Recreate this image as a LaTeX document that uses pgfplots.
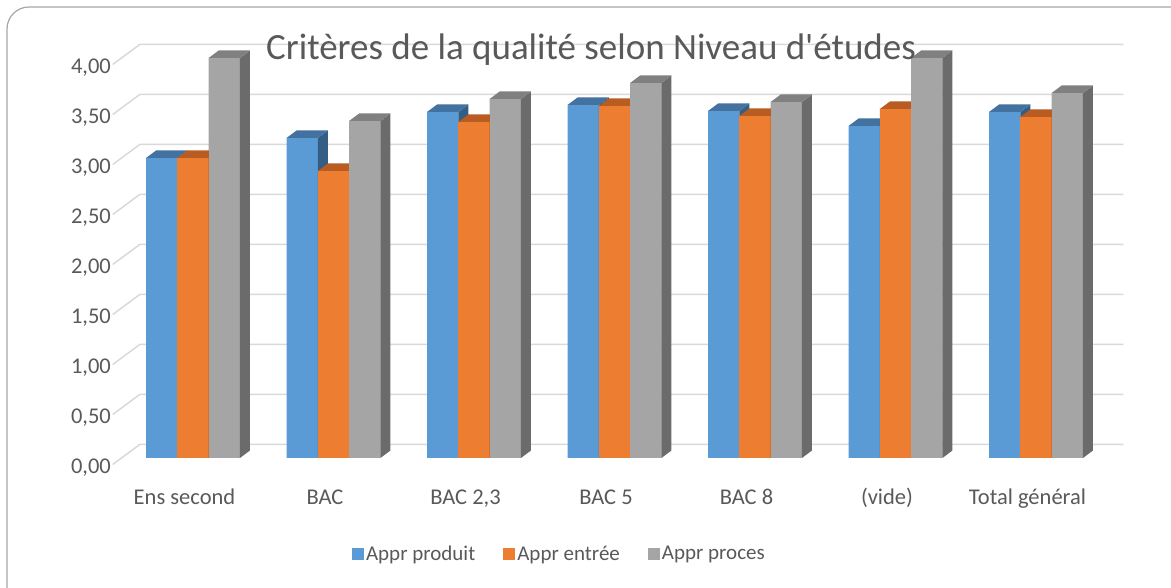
\documentclass[border=0pt]{standalone}
\usepackage{fontspec}
\setmainfont{Carlito}
\usepackage{pgfplots}
\usepackage{pgfplotstable}
\pgfplotsset{compat=1.18}
\definecolor{cblue}{HTML}{5B9BD5}
\definecolor{cbluetop}{HTML}{4472A0}
\definecolor{cblueside}{HTML}{335E86}
\definecolor{corange}{HTML}{ED7D31}
\definecolor{corangetop}{HTML}{B85C22}
\definecolor{corangeside}{HTML}{A8561F}
\definecolor{cgray}{HTML}{A5A5A5}
\definecolor{cgraytop}{HTML}{808080}
\definecolor{cgrayside}{HTML}{6B6B6B}
\definecolor{gridc}{HTML}{D9D9D9}
\definecolor{txt}{HTML}{595959}
\definecolor{framec}{HTML}{A6A6A6}
% 3D bar: #1 name, #2 right edge offset (pt), #3 top colour, #4 side colour, #5 front colour
\newcommand\defthreed[5]{%
 \pgfdeclareplotmark{#1}{%
  \pgfsetfillcolor{#5}%
  \pgfpathrectanglecorners{\pgfpoint{#2pt-31.3pt}{0pt}}{\pgfpoint{#2pt}{-\yv*100pt}}%
  \pgfusepathqfill
  \pgfsetfillcolor{#4}%
  \pgfpathmoveto{\pgfpoint{#2pt}{0pt}}%
  \pgfpathlineto{\pgfpoint{#2pt+10pt}{7.5pt}}%
  \pgfpathlineto{\pgfpoint{#2pt+10pt}{7.5pt-\yv*100pt}}%
  \pgfpathlineto{\pgfpoint{#2pt}{-\yv*100pt}}%
  \pgfpathclose\pgfusepathqfill
  \pgfsetfillcolor{#3}%
  \pgfpathmoveto{\pgfpoint{#2pt-31.3pt}{0pt}}%
  \pgfpathlineto{\pgfpoint{#2pt}{0pt}}%
  \pgfpathlineto{\pgfpoint{#2pt+10pt}{7.5pt}}%
  \pgfpathlineto{\pgfpoint{#2pt-21.3pt}{7.5pt}}%
  \pgfpathclose\pgfusepathqfill}}
\defthreed{blue3d}{-15.65}{cbluetop}{cblueside}{cblue}
\defthreed{orange3d}{15.65}{corangetop}{corangeside}{corange}
\defthreed{gray3d}{46.95}{cgraytop}{cgrayside}{cgray}
\pgfplotsset{sqlegend/.style={legend image code/.code={\fill[##1] (0pt,-6pt) rectangle (12pt,6pt);}}}
\pgfplotstableread{
x a b c
0 3.00 3.00 4.00
1 3.20 2.87 3.37
2 3.46 3.36 3.59
3 3.53 3.52 3.75
4 3.47 3.42 3.56
5 3.32 3.49 4.00
6 3.46 3.41 3.65
}\data
\begin{document}
\begin{tikzpicture}
\useasboundingbox (0pt,0pt) rectangle (1171pt,588pt);
\draw[framec, line width=1.2pt, rounded corners=22pt] (7pt,-30pt) -- (7pt,581pt) -- (1200pt,581pt);
\begin{axis}[
  scale only axis, width=983.5pt, height=400pt,
  at={(122.75pt,130pt)}, anchor=south west,
  xmin=-0.5, xmax=6.5, ymin=0, ymax=4,
  clip=false,
  axis line style={draw=none},
  major tick length=0pt,
  xtick={0,...,6},
  xticklabels={Ens second, BAC, {BAC 2,3}, BAC 5, BAC 8, (vide), Total général},
  xticklabel style={anchor=base, inner sep=0pt, yshift=-46.5pt, xshift=-8.5pt, font=\fontsize{22.5}{27}\selectfont, text=txt},
  ytick={0,0.5,...,4},
  yticklabel shift=11.7pt,
  yticklabel style={anchor=base east, inner sep=0pt, yshift=-16pt, font=\fontsize{22.5}{27}\selectfont, text=txt,
    /pgf/number format/.cd, fixed, fixed zerofill, precision=2, use comma, assume math mode=true},
  legend style={at={(0.444,-0.24)}, anchor=center, draw=none, fill=none, legend columns=3,
    font=\fontsize{21}{25}\selectfont, text=txt,
    /tikz/every even column/.append style={column sep=26pt}},
  legend cell align=left,
]
\pgfplotsinvokeforeach{0,0.5,...,4}{
  \draw[gridc, line width=1.5pt] ([xshift=-10pt,yshift=-6.5pt]axis cs:-0.5,#1) -- ([xshift=17pt,yshift=13.5pt]axis cs:-0.5,#1) -- ([xshift=17pt,yshift=13.5pt]axis cs:6.5,#1);
}
\addplot[ybar, bar width=31.3pt, bar shift=-31.3pt, fill=cblue, draw=none, sqlegend] table[x=x,y=a]{\data};
\addlegendentry{Appr produit}
\addplot[ybar, bar width=31.3pt, bar shift=0pt, fill=corange, draw=none, sqlegend] table[x=x,y=b]{\data};
\addlegendentry{Appr entrée}
\addplot[ybar, bar width=31.3pt, bar shift=31.3pt, fill=cgray, draw=none, sqlegend] table[x=x,y=c]{\data};
\addlegendentry{Appr proces}
\addplot[scatter, only marks, mark=blue3d, point meta=y, visualization depends on={rawy\as\yv}, forget plot] table[x=x,y=a]{\data};
\addplot[scatter, only marks, mark=orange3d, point meta=y, visualization depends on={rawy\as\yv}, forget plot] table[x=x,y=b]{\data};
\addplot[scatter, only marks, mark=gray3d, point meta=y, visualization depends on={rawy\as\yv}, forget plot] table[x=x,y=c]{\data};
\end{axis}
\node[anchor=base, inner sep=0pt, font=\fontsize{37}{44}\selectfont, text=txt] at (591pt,528.5pt) {Critères de la qualité selon Niveau d\textquotesingle études};
\end{tikzpicture}
\end{document}
